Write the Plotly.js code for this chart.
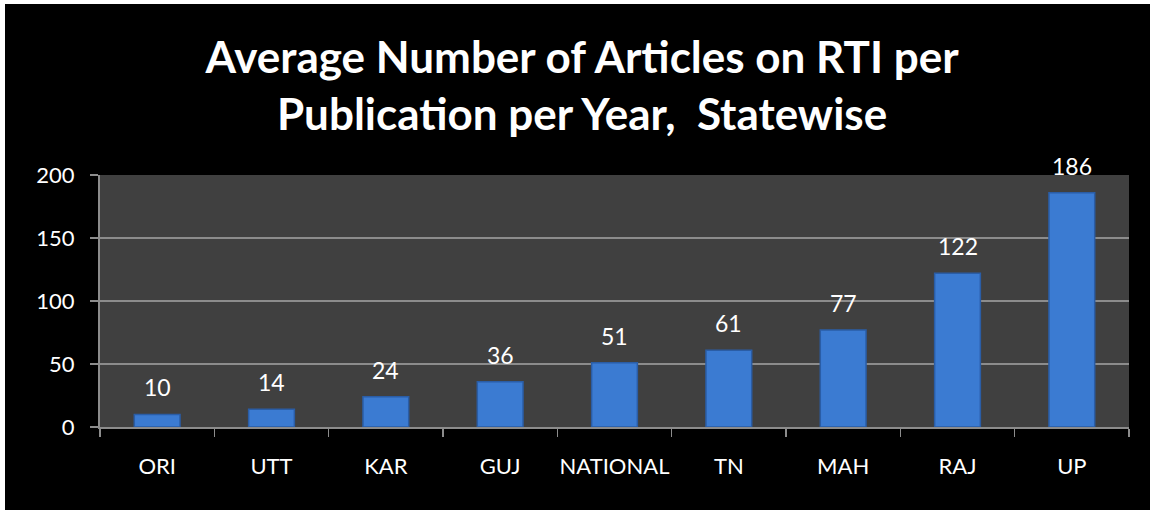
<!DOCTYPE html>
<html>
<head>
<meta charset="utf-8">
<script src="https://cdn.plot.ly/plotly-3.0.1.min.js"></script>
<style>
html,body{margin:0;padding:0;background:#ffffff;width:1150px;height:510px;overflow:hidden;}
#chart{position:absolute;left:5px;top:4px;width:1145px;height:506px;background:#000;}
</style>
</head>
<body>
<div id="chart"></div>
<script>
const categories = ["ORI","UTT","KAR","GUJ","NATIONAL","TN","MAH","RAJ","UP"];
const values = [10,14,24,36,51,61,77,122,186];
const yTickVals = [0,50,100,150,200];
const titleText = "Average Number of Articles on RTI per<br>Publication per Year,  Statewise";

const font = "Lato, 'Open Sans', sans-serif";

const trace = {
  type: "bar",
  x: categories,
  y: values,
  width: 0.4,
  marker: {color: "#3b7bd2", line: {color: "#2a5da6", width: 1.5}},
  hoverinfo: "x+y"
};

const annotations = categories.map((c, i) => ({
  x: c, y: values[i], xref: "x", yref: "y",
  text: String(values[i]), showarrow: false,
  yanchor: "bottom", yshift: 11,
  font: {family: font, size: 23, color: "#ffffff"}
}));

const layout = {
  width: 1145, height: 506,
  paper_bgcolor: "#000000",
  plot_bgcolor: "#404040",
  margin: {l: 95, r: 21, t: 171, b: 83, pad: 0},
  showlegend: false,
  title: {
    text: titleText,
    x: 0.504, xanchor: "center",
    y: 1 - 69/506, yanchor: "middle", yref: "container",
    font: {family: font, size: 44, color: "#ffffff", weight: "bold"}
  },
  xaxis: {
    type: "category",
    showline: true, linecolor: "#8c8c8c", linewidth: 2,
    ticks: "outside", tickson: "boundaries", ticklen: 8, tickcolor: "#8c8c8c", tickwidth: 1.5,
    tickfont: {family: font, size: 22, color: "#ffffff"},
    tickangle: 0, automargin: false,
    ticklabelstandoff: 19,
    showgrid: false, zeroline: false, fixedrange: true
  },
  yaxis: {
    range: [0, 200],
    tickvals: yTickVals,
    showline: true, linecolor: "#8c8c8c", linewidth: 2,
    ticks: "outside", ticklen: 8, tickcolor: "#8c8c8c", tickwidth: 1.5,
    showgrid: true, gridcolor: "#8c8c8c", gridwidth: 1.5,
    zeroline: false,
    tickfont: {family: font, size: 22, color: "#ffffff"},
    ticklabelstandoff: 11, fixedrange: true
  },
  annotations: annotations
};

Plotly.newPlot("chart", [trace], layout, {displayModeBar: false, staticPlot: true});
</script>
</body>
</html>
